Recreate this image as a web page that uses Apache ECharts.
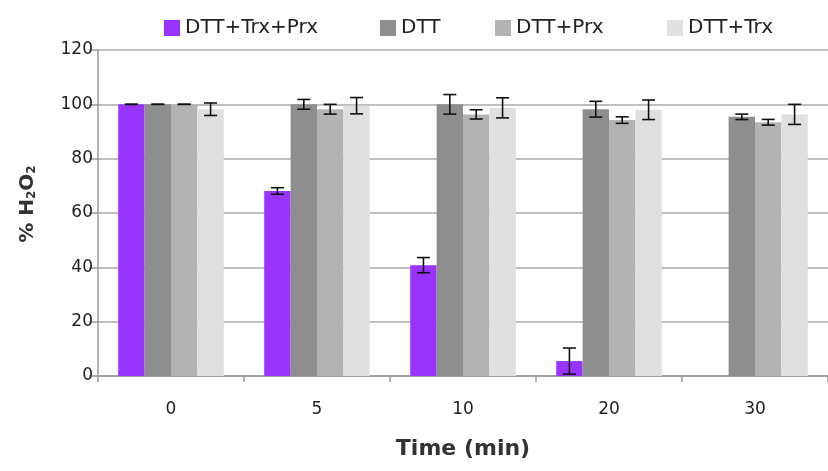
<!DOCTYPE html>
<html><head><meta charset="utf-8">
<script src="https://cdn.jsdelivr.net/npm/echarts@6/dist/echarts.min.js"></script>
<style>html,body{margin:0;padding:0;background:#fff}#c{width:828px;height:471px}</style>
</head><body><div id="c"></div>
<script>
const categories = ['0', '5', '10', '20', '30'];
const seriesNames = ['DTT+Trx+Prx', 'DTT', 'DTT+Prx', 'DTT+Trx'];
const valsTrxPrx = [100, 68.1, 40.8, 5.5, 0];
const valsDTT = [100, 100, 100, 98.2, 95.4];
const valsPrx = [100, 98.2, 96.3, 94.2, 93.4];
const valsTrx = [98.2, 99.5, 98.7, 98.0, 96.3];
const errTrxPrx = [0, 1.2, 2.8, 4.8, null];
const errDTT = [0, 1.8, 3.6, 2.9, 1.0];
const errPrx = [0, 1.8, 1.7, 1.2, 1.05];
const errTrx = [2.3, 3.0, 3.7, 3.6, 3.7];
const yTicks = [0, 20, 40, 60, 80, 100, 120];

const FONT = 'DejaVu Sans, sans-serif';
const colors = ['#9933ff', '#8e8e8e', '#b3b3b3', '#e0e0e0'];
const allVals = [valsTrxPrx, valsDTT, valsPrx, valsTrx];
const allErr = [errTrxPrx, errDTT, errPrx, errTrx];
const catGap = 0.277;

const series = [];
seriesNames.forEach((n, i) => {
  series.push({
    name: n, type: 'bar', data: allVals[i], barGap: '0%', barCategoryGap: (catGap * 100) + '%',
    itemStyle: { color: colors[i] }
  });
});
seriesNames.forEach((n, i) => {
  const data = categories.map((c, k) => allErr[i][k] == null ? null : [k, allVals[i][k], allErr[i][k]]).filter(d => d);
  series.push({
    type: 'custom', name: n + ' err', z: 5, silent: true,
    data: data,
    renderItem: function (params, api) {
      const k = api.value(0), v = api.value(1), e = api.value(2);
      const band = api.size([1, 0])[0];
      const bw = band * (1 - catGap) / 4;
      const cx = api.coord([k, v])[0] + (i - 1.5) * bw;
      const yTop = api.coord([k, v + e])[1];
      const yBot = api.coord([k, v - e])[1];
      const cap = 6.5;
      const st = { stroke: '#111', lineWidth: 1.6 };
      return { type: 'group', children: [
        { type: 'line', shape: { x1: cx, y1: yTop, x2: cx, y2: yBot }, style: st },
        { type: 'line', shape: { x1: cx - cap, y1: yTop, x2: cx + cap, y2: yTop }, style: st },
        { type: 'line', shape: { x1: cx - cap, y1: yBot, x2: cx + cap, y2: yBot }, style: st }
      ]};
    },
    encode: { x: 0, y: 1 }
  });
});

const legendLeft = [159, 375, 490, 662];
const chart = echarts.init(document.getElementById('c'));
chart.setOption({
  animation: false,
  textStyle: { fontFamily: FONT },
  legend: seriesNames.map((n, i) => ({
    data: [n], left: legendLeft[i], top: 13, itemWidth: 16, itemHeight: 16, itemGap: 4,
    icon: 'rect', textStyle: { fontSize: 20, color: '#222', fontFamily: FONT }
  })),
  grid: { left: 98, top: 50, width: 740, height: 326, containLabel: false },
  xAxis: {
    type: 'category', data: categories,
    name: 'Time (min)', nameLocation: 'middle', nameGap: 62,
    nameTextStyle: { fontSize: 22, fontWeight: 'bold', color: '#333', fontFamily: FONT },
    axisLine: { lineStyle: { color: '#999', width: 1.5 } },
    axisTick: { show: true, length: 6, lineStyle: { color: '#999', width: 1.5 } },
    axisLabel: { fontSize: 17, color: '#222', margin: 25, fontFamily: FONT }
  },
  yAxis: {
    type: 'value', min: yTicks[0], max: yTicks[yTicks.length - 1], interval: 20,
    name: '% H{s|2}O{s|2}', nameLocation: 'middle', nameGap: 60, nameRotate: 90,
    nameTextStyle: { fontSize: 20, fontWeight: 'bold', color: '#333', fontFamily: FONT, padding: [0, 0, 0, 18],
      rich: { s: { fontSize: 12, fontWeight: 'bold', color: '#333', fontFamily: FONT, verticalAlign: 'bottom', padding: [9, 0, 0, 0] } } },
    axisLine: { show: true, lineStyle: { color: '#999', width: 1.5 } },
    axisTick: { show: true, length: 9, lineStyle: { color: '#999', width: 1.5 } },
    axisLabel: { fontSize: 17, color: '#222', margin: 5, fontFamily: FONT },
    splitLine: { lineStyle: { color: '#aaa', width: 1.5 } }
  },
  series: series
});
</script>
</body></html>
